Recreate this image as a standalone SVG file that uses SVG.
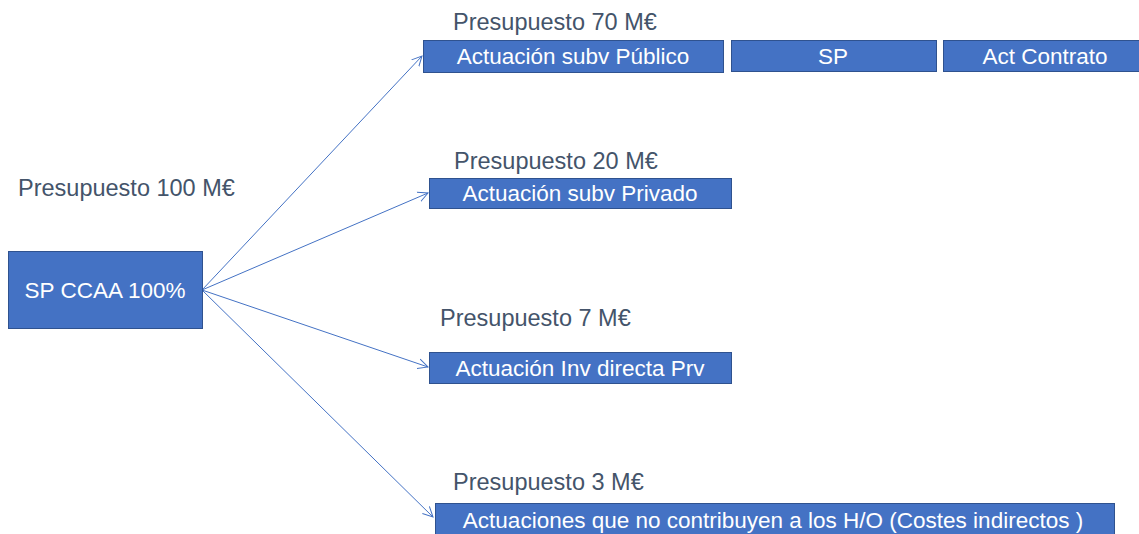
<svg xmlns="http://www.w3.org/2000/svg" width="1139" height="534" viewBox="0 0 1139 534">
<style>
.box{fill:#4472C4;stroke:#2F528F;stroke-width:1}
.bt{fill:#fff;font-family:"Liberation Sans",Arial,sans-serif;font-size:22.5px;text-anchor:middle;dominant-baseline:central}
.lb{fill:#44546A;font-family:"Liberation Sans",Arial,sans-serif;font-size:23.5px}
.con{stroke:#4472C4;stroke-width:1;fill:none;marker-end:url(#ah)}
</style>
<defs>
<marker id="ah" markerWidth="12" markerHeight="12" refX="10" refY="5" orient="auto" markerUnits="userSpaceOnUse" viewBox="0 0 12 10">
<path d="M0,0 L10,5 L0,10" fill="none" stroke="#4472C4" stroke-width="1"/>
</marker>
</defs>
<rect width="1139" height="534" fill="#fff"/>
<g id="connectors">
<line class="con" x1="202" y1="290" x2="422" y2="56"/>
<line class="con" x1="202" y1="290" x2="428" y2="193"/>
<line class="con" x1="202" y1="290" x2="428" y2="367"/>
<line class="con" x1="202" y1="290" x2="433" y2="517"/>
</g>
<g id="labels">
<text class="lb" x="18" y="196">Presupuesto 100 M€</text>
<text class="lb" x="453" y="30">Presupuesto 70 M€</text>
<text class="lb" x="454" y="169">Presupuesto 20 M€</text>
<text class="lb" x="440" y="326">Presupuesto 7 M€</text>
<text class="lb" x="453" y="490">Presupuesto 3 M€</text>
</g>
<g id="n-main"><rect class="box" x="8.5" y="251.5" width="194" height="77"/><text class="bt" x="105" y="290">SP CCAA 100%</text></g>
<g id="n-publico"><rect class="box" x="423.5" y="40.5" width="300" height="32"/><text class="bt" x="573" y="56">Actuación subv Público</text></g>
<g id="n-sp"><rect class="box" x="731.5" y="40.5" width="205" height="31"/><text class="bt" x="833" y="56">SP</text></g>
<g id="n-contrato"><rect class="box" x="943.5" y="40.5" width="196" height="31"/><text class="bt" x="1045" y="56">Act Contrato</text></g>
<g id="n-privado"><rect class="box" x="429.5" y="178.5" width="302" height="30"/><text class="bt" x="580" y="193">Actuación subv Privado</text></g>
<g id="n-inv"><rect class="box" x="429.5" y="352.5" width="302" height="31"/><text class="bt" x="580" y="368">Actuación Inv directa Prv</text></g>
<g id="n-costes"><rect class="box" x="435.5" y="503.5" width="679" height="31"/><text class="bt" x="773" y="520">Actuaciones que no contribuyen a los H/O (Costes indirectos )</text></g>
</svg>
